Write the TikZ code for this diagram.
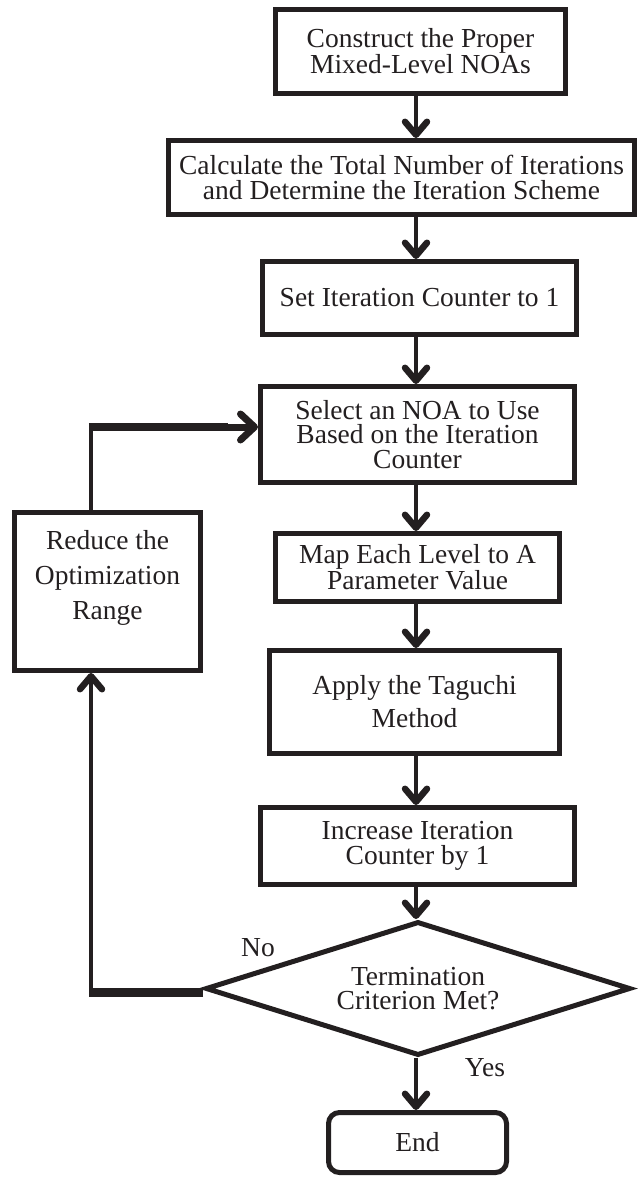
\documentclass[tikz,border=0pt]{standalone}
\usepackage{fontspec}
\setmainfont{Liberation Serif}
\usetikzlibrary{arrows.meta,shapes.geometric}
\definecolor{ink}{RGB}{35,31,32}
\tikzset{
  boxnode/.style={draw=ink, line width=5pt, rectangle, inner sep=0pt, align=center,
    text=ink, font=\fontsize{27.5}{24.5}\selectfont},
  txtnode/.style={inner sep=0pt, align=center, text=ink, font=\fontsize{27.5}{24.5}\selectfont},
  flow/.style={draw=ink, line width=4.5pt, -{Straight Barb[length=13pt,width=22pt,line width=6.5pt,round]}},
  flowplain/.style={draw=ink, line width=4.5pt},
  heavy/.style={draw=ink, line width=8.5pt},
}
\begin{document}
\begin{tikzpicture}[x=1pt,y=-1pt]
\useasboundingbox (0,0) rectangle (638,1177);
\coordinate (spine) at (416,0);

\node[boxnode, minimum width=290pt, minimum height=84pt] (b1) at (420.5,51.5)
  {Construct the Proper\\Mixed-Level NOAs};
\node[boxnode, minimum width=466pt, minimum height=74pt] (b2) at (401.5,177.5)
  {Calculate the Total Number of Iterations\\and Determine the Iteration Scheme};
\node[boxnode, minimum width=314pt, minimum height=73pt] (b3) at (419.5,298)
  {Set Iteration Counter to 1};
\node[boxnode, minimum width=314pt, minimum height=96pt] (b4) at (417.5,434.5)
  {Select an NOA to Use\\Based on the Iteration\\Counter};
\node[boxnode, minimum width=284pt, minimum height=68pt] (b5) at (417.5,567.5)
  {Map Each Level to A\\Parameter Value};
\node[boxnode, minimum width=290pt, minimum height=103pt, font=\fontsize{27.5}{33}\selectfont] (b6) at (414.5,702)
  {Apply the Taguchi\\Method};
\node[boxnode, minimum width=314pt, minimum height=77pt] (b7) at (417.5,846)
  {Increase Iteration\\Counter by 1};
\node[boxnode, diamond, aspect=3.17, minimum width=425pt, minimum height=134pt] (d) at (418,988.5)
  {Termination\\Criterion Met?};
\node[boxnode, rounded corners=11pt, minimum width=178pt, minimum height=60pt] (e) at (417.5,1142.5)
  {End};

\node[boxnode, minimum width=186pt, minimum height=158pt] (r) at (107.5,591.5) {};
\node[txtnode, font=\fontsize{27.5}{35}\selectfont] (rt) at ([yshift=14pt]r.center)
  {Reduce the\\Optimization\\Range};

\node[txtnode] (no) at (258,948) {No};
\node[txtnode] (yes) at (485,1068) {Yes};

% main flow
\draw[flow] (b1.south -| spine) -- (b2.north -| spine);
\draw[flow] (b2.south -| spine) -- (b3.north -| spine);
\draw[flow] (b3.south -| spine) -- (b4.north -| spine);
\draw[flow] (b4.south -| spine) -- (b5.north -| spine);
\draw[flow] (b5.south -| spine) -- (b6.north -| spine);
\draw[flow] (b6.south -| spine) -- (b7.north -| spine);
\draw[flow] (b7.south -| spine) -- (d.north -| spine);
\draw[flow] (d.south -| spine) -- (e.north -| spine);

% loop back
\coordinate (nob) at (91,992.5);
\coordinate (topb) at (91,427);
\draw[heavy] (d.west |- nob) -- ([xshift=-2.25pt]nob);
\draw[flow] (nob) -- (nob |- r.south);
\draw[flowplain] (nob |- r.north) -- ([yshift=-4pt]topb);
\draw[heavy] ([xshift=-2.25pt]topb) -- ([xshift=-30pt]topb -| b4.west);
\draw[flow, line width=7pt, -{Straight Barb[length=14pt,width=26pt,line width=7pt,round]}] ([xshift=-32pt]topb -| b4.west) -- (topb -| b4.west);
\end{tikzpicture}
\end{document}
